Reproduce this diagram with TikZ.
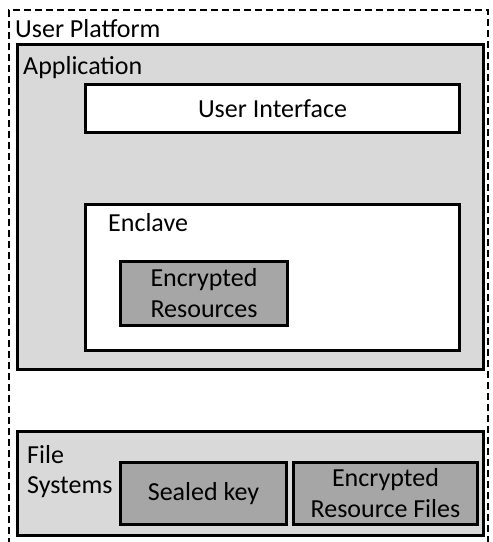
\documentclass[tikz,border=0pt]{standalone}
\usepackage{fontspec}
\setmainfont{Carlito}
\begin{document}
\begin{tikzpicture}[x=1pt,y=-1pt,
  box/.style={draw=black,line width=3pt,inner sep=0pt,anchor=north west},
  lgrey/.style={box,fill=lgreyc},
  dgrey/.style={box,fill=dgreyc,align=center,font=\fontsize{26}{31}\selectfont},
  wbox/.style={box,fill=white},
  lbl/.style={inner sep=0pt,anchor=base west,font=\fontsize{26}{30}\selectfont,align=left}]
\definecolor{lgreyc}{HTML}{D9D9D9}
\definecolor{dgreyc}{HTML}{A6A6A6}
\useasboundingbox (0,0) rectangle (493,542);
\node[draw=black,line width=2pt,dash pattern=on 7pt off 4pt,inner sep=0pt,anchor=north west,minimum width=479pt,minimum height=560pt] (plat) at (8,9) {};
\node[lbl] (platl) at (15,37) {User Platform};
\node[lgrey,minimum width=466pt,minimum height=325pt] (app) at (16,43) {};
\node[lbl] (appl) at (23,74) {Application};
\node[wbox,minimum width=374pt,minimum height=48pt,font=\fontsize{26}{31}\selectfont] (ui) at (84,83) {User Interface};
\node[wbox,minimum width=374pt,minimum height=146pt] (encl) at (84,203) {};
\node[lbl] (enclabel) at (108,231) {Enclave};
\node[dgrey,minimum width=167pt,minimum height=64pt] (er) at (119,260) {Encrypted\\Resources};
\node[lgrey,minimum width=466pt,minimum height=104pt] (fs) at (16,430) {};
\node[lbl] (fsl) at (27,463) {File};
\node[lbl] (fsl2) at (27,493) {Systems};
\node[dgrey,minimum width=166pt,minimum height=62pt] (sk) at (119,461) {Sealed key};
\node[dgrey,minimum width=184pt,minimum height=62pt] (erf) at (292,461) {Encrypted\\Resource Files};
\end{tikzpicture}
\end{document}
